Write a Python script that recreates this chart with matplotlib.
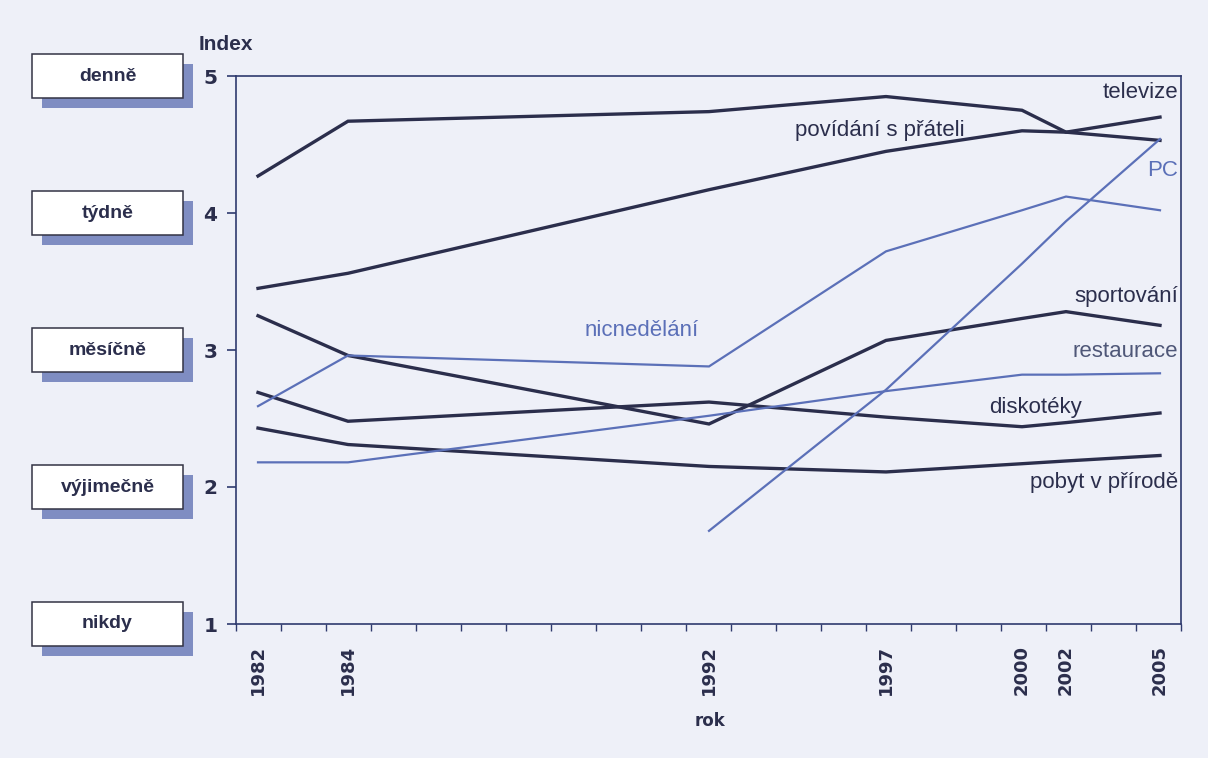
import matplotlib
matplotlib.use('Agg')  # no display
import matplotlib.pyplot as plt
from matplotlib.patches import Rectangle
import matplotlib.transforms as mtransforms
import numpy as np

# --- data ---
years = [1982, 1984, 1992, 1997, 2000, 2002, 2005]
nan = np.nan

televize = [4.27, 4.67, 4.74, 4.85, 4.75, 4.59, 4.70]
povidani = [3.45, 3.56, 4.17, 4.45, 4.60, 4.59, 4.53]
pc = [nan, nan, 1.68, 2.71, 3.63, 3.94, 4.54]
nicnedelani = [2.59, 2.96, 2.88, 3.72, 4.02, 4.12, 4.02]
sportovani = [3.25, 2.96, 2.46, 3.07, 3.23, 3.28, 3.18]
restaurace = [2.18, 2.18, 2.52, 2.70, 2.82, 2.82, 2.83]
diskoteky = [2.69, 2.48, 2.62, 2.51, 2.44, 2.47, 2.54]
pobyt = [2.43, 2.31, 2.15, 2.11, 2.17, 2.19, 2.23]

levels = [5, 4, 3, 2, 1]
level_names = ['denně', 'týdně', 'měsíčně', 'výjimečně', 'nikdy']

# --- look ---
BG = '#eef0f8'
DARK = '#2b2e4c'
LIGHT = '#5b70b8'
GREYBLUE = '#4f5778'
SPINE = '#2f3a6e'

# the original year axis is not linear: anchor years -> horizontal position
anchor_years = [1981, 1982, 1984, 1992, 1997, 2000, 2002, 2005, 2006]
anchor_pos = [213, 258, 348, 709, 886, 1022, 1066, 1160, 1191.3]


def fwd(x):
    return np.interp(x, anchor_years, anchor_pos)


def inv(p):
    return np.interp(p, anchor_pos, anchor_years)


fig = plt.figure(figsize=(12.08, 7.58), dpi=100)
fig.patch.set_facecolor(BG)
ax = fig.add_axes([236 / 1208, 134 / 758, 945 / 1208, 548 / 758])
ax.set_facecolor(BG)
ax.set_xscale('function', functions=(fwd, inv))
ax.set_xlim(inv(236), inv(1181))
ax.set_ylim(1, 5)

series = [
    (televize, DARK, 2.4),
    (povidani, DARK, 2.4),
    (sportovani, DARK, 2.4),
    (diskoteky, DARK, 2.4),
    (pobyt, DARK, 2.4),
    (pc, LIGHT, 1.6),
    (nicnedelani, LIGHT, 1.6),
    (restaurace, LIGHT, 1.6),
]
for vals, col, lw in series:
    ax.plot(years, vals, color=col, lw=lw, solid_joinstyle='miter')

# series labels
lab = dict(fontsize=16, family='Liberation Sans', va='center')
ax.text(2005.58, 4.88, 'televize', color=DARK, ha='right', **lab)
ax.text(1996.83, 4.60, 'povídání s přáteli', color=DARK, ha='center', **lab)
ax.text(2005.58, 4.31, 'PC', color=LIGHT, ha='right', **lab)
ax.text(2005.58, 3.39, 'sportování', color=DARK, ha='right', **lab)
ax.text(2005.58, 2.99, 'restaurace', color=GREYBLUE, ha='right', **lab)
ax.text(2000.6, 2.58, 'diskotéky', color=DARK, ha='center', **lab)
ax.text(2005.58, 2.03, 'pobyt v přírodě', color=DARK, ha='right', **lab)
ax.text(1990.5, 3.14, 'nicnedělání', color=LIGHT, ha='center', **lab)

# axes frame and ticks
for s in ax.spines.values():
    s.set_color(SPINE)
    s.set_linewidth(1.2)

ax.set_yticks(levels)
ax.set_yticklabels([str(v) for v in levels], fontsize=14.5, fontweight='bold', color=DARK)
ax.tick_params(axis='y', length=6.5, width=1.2, color=SPINE, pad=7)

ax.set_xticks(years)
ax.set_xticklabels([str(y) for y in years], rotation=90, fontsize=13,
                   fontweight='bold', color=DARK, va='top')
ax.tick_params(axis='x', which='major', length=0, pad=15)
ax.set_xticks(inv(np.arange(236, 1182, 45)), minor=True)
ax.tick_params(axis='x', which='minor', length=5, width=1, color=SPINE)

fig.text(226 / 1208, 1 - 45 / 758, 'Index', fontsize=15, fontweight='bold',
         color=DARK, ha='center', va='center', family='Liberation Sans')
fig.text(710 / 1208, 1 - 721 / 758, 'rok', fontsize=12, fontweight='bold',
         color=DARK, ha='center', va='center')

# category boxes on the left, aligned with the y ticks
trans = mtransforms.blended_transform_factory(fig.transFigure, ax.transData)
bx, bw, bh = 32 / 1208, 151 / 1208, 0.314
dx, dy = 10 / 1208, 10 / 137
for lvl, name in zip(levels, level_names):
    ax.add_patch(Rectangle((bx + dx, lvl - bh / 2 - dy), bw, bh, transform=trans,
                           facecolor='#7f8dc2', edgecolor='none', clip_on=False))
    ax.add_patch(Rectangle((bx, lvl - bh / 2), bw, bh, transform=trans,
                           facecolor='white', edgecolor='#333344', lw=1.1, clip_on=False))
    ax.text(bx + bw / 2, lvl, name, transform=trans, ha='center', va='center',
            fontsize=14, fontweight='bold', color=DARK, family='Liberation Sans')

fig.savefig('out.png', dpi=100, facecolor=fig.get_facecolor())
plt.close(fig)
